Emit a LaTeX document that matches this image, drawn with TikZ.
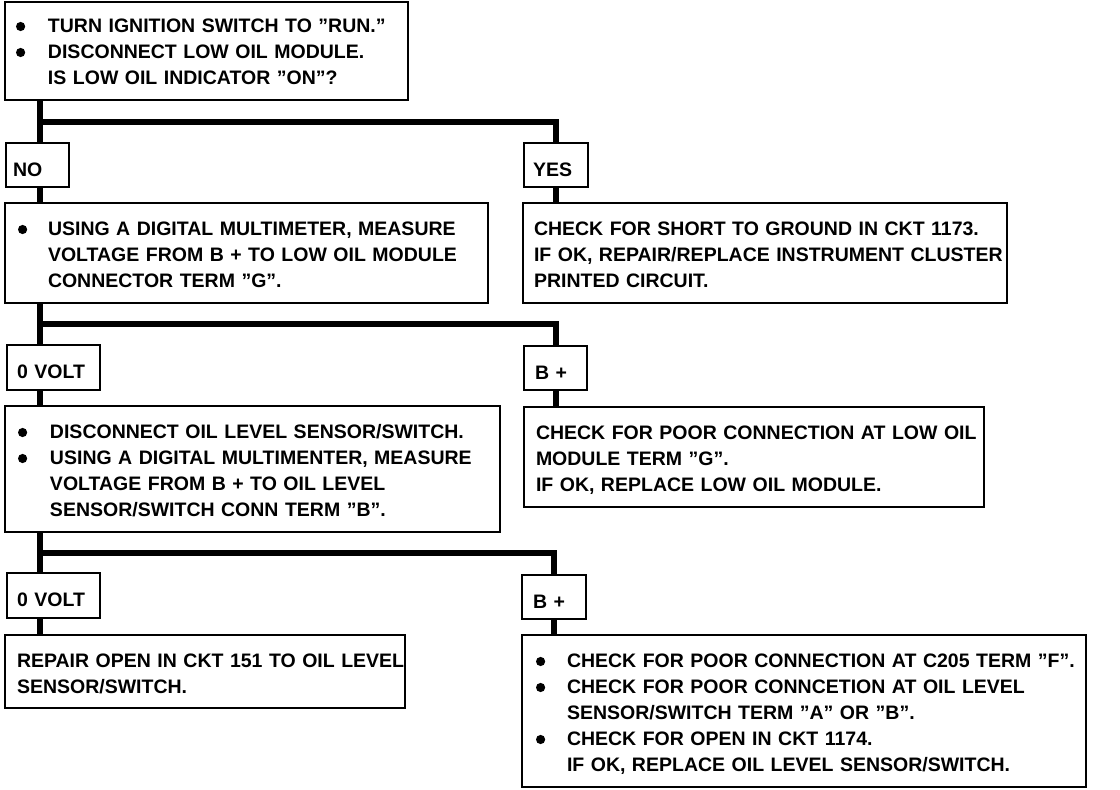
\documentclass[tikz,border=0pt]{standalone}
\usepackage{fontspec}
\setmainfont{Liberation Sans}
\usetikzlibrary{calc}
\newcommand{\bdot}{\tikz[baseline=-6pt]\fill (0,0) circle (4.6pt);}
\newcommand{\bl}[2]{\mbox{\makebox[#1][l]{\bdot}#2}}
\newcommand{\cl}[2]{\mbox{\hspace*{#1}#2}}
\newcommand{\pl}[1]{\mbox{#1}}
\tikzset{
  txt/.style={font={\fontsize{19.5}{26}\selectfont\bfseries}},
  box/.style={txt, draw, line width=2pt, rectangle, inner ysep=0pt, align=left,
    execute at begin node={\rule{0pt}{#1}},
    execute at end node={\rule[-3pt]{0pt}{3pt}}},
  box/.default=20pt,
  lbl/.style={txt, draw, line width=2pt, rectangle, inner ysep=0pt, inner xsep=#1,
    text height=22pt, text depth=0pt, anchor=west},
  conn/.style={line width=6pt}
}
\begin{document}
\begin{tikzpicture}[x=1pt,y=-1pt]
\useasboundingbox (0,0) rectangle (1120,790);
% level 1
\node[box=18pt, minimum width=403pt, minimum height=98pt, text width=381pt, inner xsep=11pt] (box1) at (206.5,51)
 {\bl{32pt}{TURN IGNITION SWITCH TO "RUN."}\\
  \bl{32pt}{DISCONNECT LOW OIL MODULE.}\\
  \cl{32pt}{IS LOW OIL INDICATOR "ON"?}};
\node[lbl=7pt, minimum width=63pt, minimum height=44pt, text width=49pt] (no) at (5,165) {NO};
\node[lbl=9pt, minimum width=64pt, minimum height=44pt, text width=46pt] (yes) at (523,165) {YES};
% level 2
\node[box, minimum width=483pt, minimum height=100pt, text width=457pt, inner xsep=13pt] (b2l) at (246.5,253)
 {\bl{30pt}{USING A DIGITAL MULTIMETER, MEASURE}\\
  \cl{30pt}{VOLTAGE FROM B + TO LOW OIL MODULE}\\
  \cl{30pt}{CONNECTOR TERM "G".}};
\node[box, minimum width=484pt, minimum height=100pt, text width=462pt, inner xsep=11pt] (b2r) at (765,253)
 {\pl{CHECK FOR SHORT TO GROUND IN CKT 1173.}\\
  \pl{IF OK, REPAIR/REPLACE INSTRUMENT CLUSTER}\\
  \pl{PRINTED CIRCUIT.}};
\node[lbl=10pt, minimum width=93pt, minimum height=45pt, text width=73pt] (v1) at (6,367.5) {0 VOLT};
\node[lbl=11pt, minimum width=63pt, minimum height=44pt, text width=41pt] (bp1) at (523,368) {B +};
% level 3
\node[box, minimum width=495pt, minimum height=126pt, text width=469pt, inner xsep=13pt] (b3l) at (252.5,469)
 {\bl{32pt}{DISCONNECT OIL LEVEL SENSOR/SWITCH.}\\
  \bl{32pt}{USING A DIGITAL MULTIMENTER, MEASURE}\\
  \cl{32pt}{VOLTAGE FROM B + TO OIL LEVEL}\\
  \cl{32pt}{SENSOR/SWITCH CONN TERM "B".}};
\node[box, minimum width=460pt, minimum height=100pt, text width=436pt, inner xsep=12pt] (b3r) at (754,457)
 {\pl{CHECK FOR POOR CONNECTION AT LOW OIL}\\
  \pl{MODULE TERM "G".}\\
  \pl{IF OK, REPLACE LOW OIL MODULE.}};
\node[lbl=10pt, minimum width=93pt, minimum height=45pt, text width=73pt] (v2) at (6,595.5) {0 VOLT};
\node[lbl=11pt, minimum width=64pt, minimum height=44pt, text width=42pt] (bp2) at (521,597) {B +};
% level 4
\node[box, minimum width=400pt, minimum height=73pt, text width=376pt, inner xsep=12pt] (b4l) at (205,671.5)
 {\pl{REPAIR OPEN IN CKT 151 TO OIL LEVEL}\\
  \pl{SENSOR/SWITCH.}};
\node[box, minimum width=564pt, minimum height=152pt, text width=536pt, inner xsep=14pt] (b4r) at (804,711)
 {\bl{31pt}{CHECK FOR POOR CONNECTION AT C205 TERM "F".}\\
  \bl{31pt}{CHECK FOR POOR CONNCETION AT OIL LEVEL}\\
  \cl{31pt}{SENSOR/SWITCH TERM "A" OR "B".}\\
  \bl{31pt}{CHECK FOR OPEN IN CKT 1174.}\\
  \cl{31pt}{IF OK, REPLACE OIL LEVEL SENSOR/SWITCH.}};
% connectors
\coordinate (t) at (40,0);
\coordinate (j1) at (40,121.5);
\coordinate (j2) at (40,324);
\coordinate (j3) at (40,553);
\draw[conn] (box1.south -| t) -- (no.north -| t);
\draw[conn] (j1) -| (yes.north);
\draw[conn] (no.south -| t) -- (b2l.north -| t);
\draw[conn] (yes.south) -- (yes.south |- b2r.north);
\draw[conn] (b2l.south -| t) -- (v1.north -| t);
\draw[conn] (j2) -| (bp1.north);
\draw[conn] (v1.south -| t) -- (b3l.north -| t);
\draw[conn] (bp1.south) -- (bp1.south |- b3r.north);
\draw[conn] (b3l.south -| t) -- (v2.north -| t);
\draw[conn] (j3) -| (bp2.north);
\draw[conn] (v2.south -| t) -- (b4l.north -| t);
\draw[conn] (bp2.south) -- (bp2.south |- b4r.north);
\end{tikzpicture}
\end{document}
